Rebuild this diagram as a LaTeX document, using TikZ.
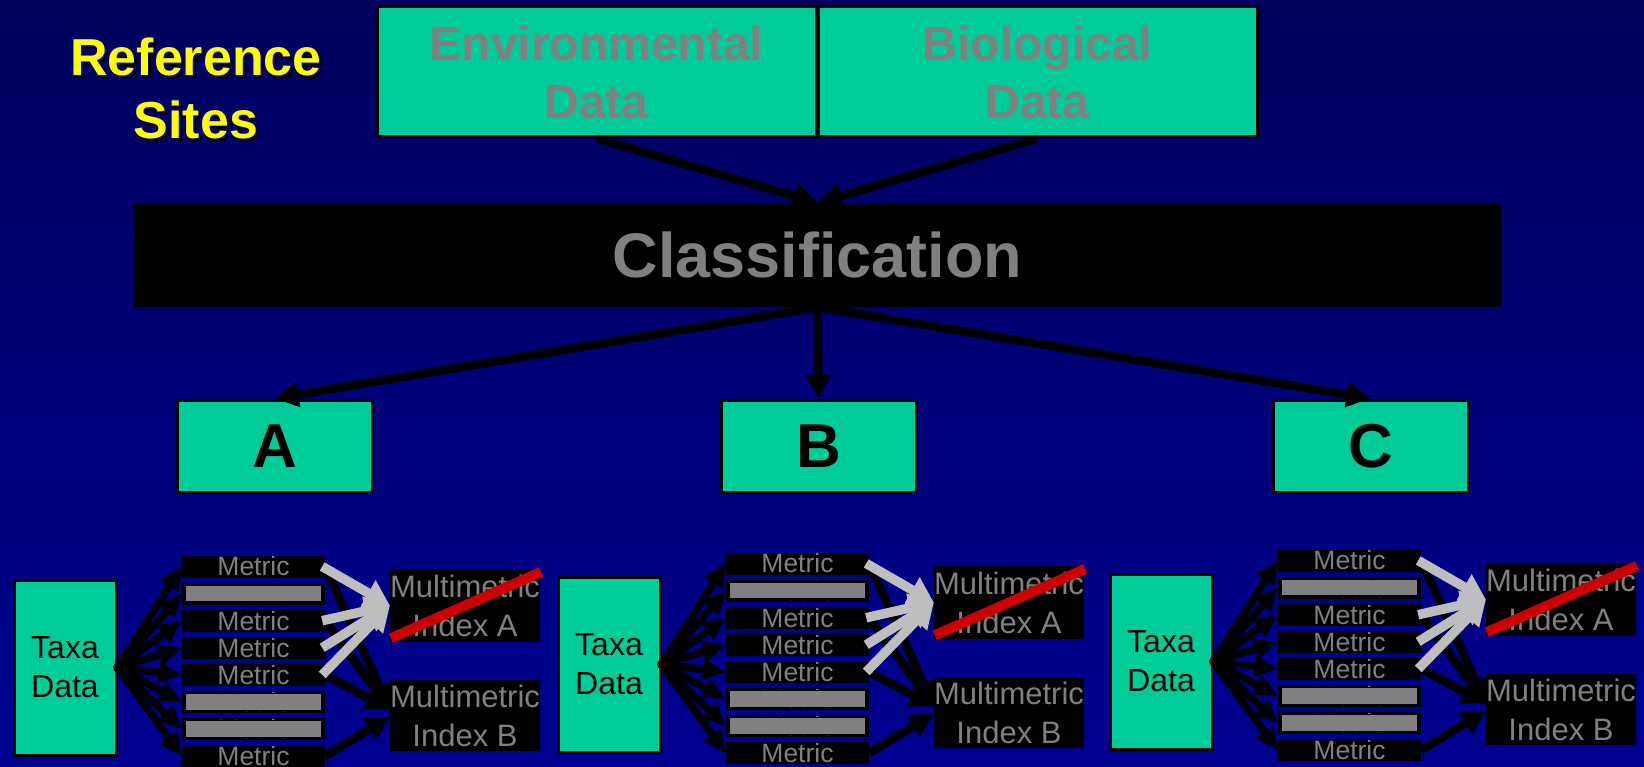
\documentclass[tikz,border=0pt]{standalone}
\usepackage{fontspec}
\setmainfont{Liberation Sans}
\usetikzlibrary{arrows.meta, positioning}

\definecolor{navytop}{RGB}{0,0,94}
\definecolor{navybot}{RGB}{0,0,145}
\definecolor{boxteal}{RGB}{0,204,153}
\definecolor{txtgray}{RGB}{128,128,128}
\definecolor{arrowgray}{RGB}{190,190,190}
\definecolor{strikered}{RGB}{204,0,0}
\definecolor{refyellow}{RGB}{255,255,0}

% yellow title with a small black drop shadow
\newcommand{\shadowtext}[1]{\makebox[0pt][l]{\hspace{2.5pt}\raisebox{-2.5pt}{\textcolor{black}{#1}}}#1}

\begin{document}
\begin{tikzpicture}[x=1pt, y=-1pt,
    databox/.style={rectangle, draw=black, line width=3pt, fill=boxteal, inner sep=0pt, align=center},
    bigbox/.style={databox, minimum width=439pt, minimum height=130pt, font=\fontsize{48}{58}\selectfont\bfseries, text=txtgray},
    classbox/.style={rectangle, fill=black, minimum width=1367pt, minimum height=104pt, inner sep=0pt, font=\fontsize{63}{70}\selectfont\bfseries, text=txtgray},
    letterbox/.style={databox, minimum width=195pt, minimum height=92pt, font=\fontsize{62}{70}\selectfont\bfseries, text=black},
    taxabox/.style={databox, minimum width=102pt, minimum height=175pt, font=\fontsize{32}{39}\selectfont, text=black},
    metric/.style={rectangle, fill=black, minimum width=143pt, minimum height=22pt, inner sep=0pt, font=\fontsize{26.5}{26.5}\selectfont, text=txtgray},
    cover/.style={rectangle, draw=black, line width=1.5pt, fill=txtgray, minimum width=137pt, minimum height=17pt, inner sep=0pt},
    index/.style={rectangle, fill=black, minimum width=146pt, inner sep=0pt, align=center, font=\fontsize{31}{39}\selectfont, text=txtgray},
    hub/.style={circle, fill=black, inner sep=0pt, minimum size=9pt},
    reftext/.style={align=center, font=\fontsize{52}{63}\selectfont\bfseries, text=refyellow},
    thickarrow/.style={draw=black, line width=8.5pt, -{Triangle[length=24pt, width=24pt]}},
    fan/.style={draw=black, line width=7.5pt, -{Triangle[length=23pt, width=20pt]}},
    grayarrow/.style={draw=arrowgray, line width=9.5pt, -{Triangle[length=25pt, width=28pt]}},
    strike/.style={draw=strikered, line width=10pt}
]

    % Background
    \useasboundingbox (0,0) rectangle (1644,767);
    \fill[top color=navytop, bottom color=navybot] (0,0) rectangle (1644,767);

    % Reference data
    \node[reftext] (refsites) at (196,90) {\shadowtext{Reference}\\\shadowtext{Sites}};
    \node[bigbox] (envdata) at (596.5,72) {Environmental\\Data};
    \node[bigbox] (biodata) at (1037.5,72) {Biological\\Data};

    % Classification
    \node[classbox] (class) at (817.5,255) {Classification};

    \node[letterbox] (A) at (274.5,446) {A};
    \node[letterbox] (B) at (818.5,446) {B};
    \node[letterbox] (C) at (1370.5,446) {C};

    \draw[thickarrow] (envdata.south) -- (class.north);
    \draw[thickarrow] (biodata.south) -- (class.north);
    \draw[thickarrow] (class.south) -- (A.north);
    \draw[thickarrow] (class.south) -- (B.north);
    \draw[thickarrow] (class.south) -- (C.north);

    % Metrics and indices, one group per class
    \foreach \g/\dx/\dy in {1/0/0, 2/544/-3, 3/1096/-6} {
        \begin{scope}[shift={(\dx,\dy)}]
            \node[taxabox] (taxa\g) at (65,667.5) {Taxa\\Data};
            \node[hub] (hub\g) at (taxa\g.east) {};

            \foreach \i in {1,...,8}
                \node[metric] (m\g-\i) at (253.5,{566.5+27.1*(\i-1)}) {Metric};
            \foreach \i in {2,6,7}
                \node[cover] (c\g-\i) at (m\g-\i.center) {};

            \node[index, minimum height=73pt] (ia\g) at (465,605.5) {Multimetric\\Index A};
            \node[index, minimum height=71pt] (ib\g) at (465,715.5) {Multimetric\\Index B};

            \foreach \i in {1,...,8}
                \draw[fan] (hub\g) -- (m\g-\i.west);

            \foreach \i in {1,3,5}
                \draw[thickarrow] (m\g-\i.east) -- ([yshift=6pt]ib\g.west);
            \draw[thickarrow] (m\g-8.east) -- ([yshift=-1pt]ib\g.west);

            \foreach \i in {1,3,4,5}
                \draw[grayarrow] ([xshift=-3pt]m\g-\i.east) -- (ia\g.west);

            \draw[strike] ([shift={(1,-4)}]ia\g.south west) -- ([shift={(1,3)}]ia\g.north east);
        \end{scope}
    }

\end{tikzpicture}
\end{document}
